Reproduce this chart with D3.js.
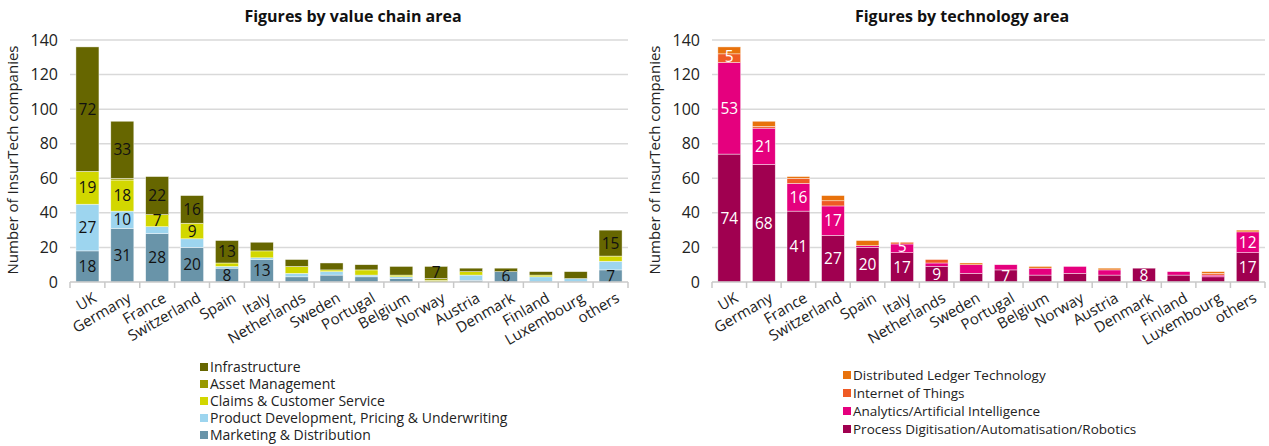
<!DOCTYPE html>
<html>
<head>
<meta charset="utf-8">
<script src="https://cdn.jsdelivr.net/npm/d3@7"></script>
<style>
  body { margin: 0; background: #fff; }
  svg { font-family: "Open Sans", sans-serif; }
</style>
</head>
<body>
<svg width="1269" height="446"></svg>
<script>
var countries = ["UK", "Germany", "France", "Switzerland", "Spain", "Italy", "Netherlands", "Sweden",
    "Portugal", "Belgium", "Norway", "Austria", "Denmark", "Finland", "Luxembourg", "others"];

// value chain area
var marketing      = [18, 31, 28, 20, 8, 13, 3, 4, 3, 2, 0, 1, 6, 0, 0, 7];
var productDev     = [27, 10, 4, 5, 1, 1, 2, 2, 1, 1, 0, 3, 0, 3, 2, 5];
var claims         = [19, 18, 7, 9, 2, 4, 4, 1, 3, 1, 1, 2, 0, 1, 0, 3];
var assetMgmt      = [0, 1, 0, 0, 0, 0, 0, 0, 0, 0, 1, 0, 0, 0, 0, 0];
var infrastructure = [72, 33, 22, 16, 13, 5, 4, 4, 3, 5, 7, 2, 2, 2, 4, 15];

// technology area
var processDig = [74, 68, 41, 27, 20, 17, 9, 5, 7, 4, 5, 4, 8, 4, 3, 17];
var analytics  = [53, 21, 16, 17, 1, 5, 2, 5, 3, 4, 4, 3, 0, 2, 1, 12];
var iot        = [5, 1, 3, 3, 0, 1, 2, 0, 0, 0, 0, 0, 0, 0, 1, 0];
var dlt        = [4, 3, 1, 3, 3, 0, 0, 1, 0, 1, 0, 1, 0, 0, 1, 1];

var yTicks = [0, 20, 40, 60, 80, 100, 120, 140];

var svg = d3.select("svg");

function buildRows(series) {
    return countries.map(function(c, i) {
        var row = { country: c };
        series.forEach(function(s) { row[s.key] = s.values[i]; });
        return row;
    });
}

function drawChart(opt) {
    var g = svg.append("g");
    var x = d3.scaleBand().domain(countries)
        .range([opt.x0, opt.x1]).paddingInner(0.34).paddingOuter(0.17);
    var y = d3.scaleLinear().domain([0, 140]).range([282, 40]);

    // gridlines
    g.append("g").selectAll("line")
        .data(yTicks.slice(1))
        .enter().append("line")
        .attr("x1", opt.x0).attr("x2", opt.x1)
        .attr("y1", function(d) { return y(d); })
        .attr("y2", function(d) { return y(d); })
        .attr("stroke", "#d9d9d9").attr("stroke-width", 1.5);

    // y tick labels
    g.append("g").selectAll("text")
        .data(yTicks)
        .enter().append("text")
        .attr("x", opt.x0 - 12)
        .attr("y", function(d) { return y(d); })
        .attr("dy", "0.35em")
        .attr("text-anchor", "end")
        .attr("font-size", 16)
        .attr("fill", "#222")
        .text(function(d) { return d; });

    var keys = opt.series.map(function(s) { return s.key; });
    var stacked = d3.stack().keys(keys)(buildRows(opt.series));

    var layer = g.append("g").selectAll("g")
        .data(stacked)
        .enter().append("g")
        .attr("fill", function(d, i) { return opt.series[i].color; });

    layer.selectAll("rect")
        .data(function(d) { return d; })
        .enter().append("rect")
        .attr("x", function(d) { return x(d.data.country); })
        .attr("width", x.bandwidth())
        .attr("y", function(d) { return y(d[1]); })
        .attr("height", function(d) { return y(d[0]) - y(d[1]); })
        .attr("stroke", "#fff").attr("stroke-width", 0.6)
        .attr("stroke-opacity", function(d) { return d[1] > d[0] ? 0.7 : 0; });

    // segment labels
    stacked.forEach(function(s) {
        var lab = g.append("g");
        lab.selectAll("text")
            .data(s.filter(function(d) {
                var v = d[1] - d[0];
                var extra = opt.extraLabels.some(function(e) {
                    return e[0] === d.data.country && e[1] === s.key;
                });
                return v >= opt.minLabel || extra;
            }))
            .enter().append("text")
            .attr("x", function(d) { return x(d.data.country) + x.bandwidth() / 2; })
            .attr("y", function(d) {
                var v = d[1] - d[0];
                return y((d[0] + d[1]) / 2) - (v < 6 ? 2 : 0);
            })
            .attr("dy", "0.36em")
            .attr("text-anchor", "middle")
            .attr("font-size", 15.5)
            .attr("fill", opt.labelColor)
            .text(function(d) { return d[1] - d[0]; });
    });

    // baseline and ticks
    g.append("line")
        .attr("x1", opt.x0).attr("x2", opt.x1)
        .attr("y1", y(0)).attr("y2", y(0))
        .attr("stroke", "#c8c8c8").attr("stroke-width", 1.5);
    var bounds = d3.range(countries.length + 1).map(function(i) { return opt.x0 + i * (opt.x1 - opt.x0) / countries.length; });
    g.append("g").selectAll("line")
        .data(bounds)
        .enter().append("line")
        .attr("x1", function(d) { return d; }).attr("x2", function(d) { return d; })
        .attr("y1", y(0)).attr("y2", y(0) + 6)
        .attr("stroke", "#c8c8c8").attr("stroke-width", 1.5);

    // x labels
    g.append("g").selectAll("text")
        .data(countries)
        .enter().append("text")
        .attr("transform", function(d) {
            return "translate(" + (x(d) + x.bandwidth() / 2 + 10) + "," + 301 + ") rotate(-30)";
        })
        .attr("text-anchor", "end")
        .attr("font-size", 15)
        .attr("fill", "#222")
        .text(function(d) { return d; });

    // title
    g.append("text")
        .attr("x", opt.titleX).attr("y", 22)
        .attr("text-anchor", "middle")
        .attr("font-size", 16).attr("font-weight", "bold")
        .attr("fill", "#111")
        .text(opt.title);

    // y axis title
    g.append("text")
        .attr("transform", "translate(" + opt.yTitleX + ",160) rotate(-90)")
        .attr("text-anchor", "middle")
        .attr("font-size", 15)
        .attr("fill", "#222")
        .text("Number of InsurTech companies");

    // legend (reverse order, top = last series)
    var leg = g.append("g").selectAll("g")
        .data(opt.series.slice().reverse())
        .enter().append("g")
        .attr("transform", function(d, i) {
            return "translate(" + opt.legX + "," + (opt.legY + i * opt.legStep) + ")";
        });
    leg.append("rect")
        .attr("x", 0).attr("y", -5)
        .attr("width", 8).attr("height", 8)
        .attr("fill", function(d) { return d.color; });
    leg.append("text")
        .attr("x", 10).attr("y", 0)
        .attr("dy", "0.32em")
        .attr("font-size", opt.legFont)
        .attr("fill", "#222")
        .text(function(d) { return d.name; });
}

drawChart({
    x0: 70, x1: 628,
    title: "Figures by value chain area", titleX: 353,
    yTitleX: 18,
    labelColor: "#111",
    minLabel: 6,
    extraLabels: [],
    legX: 200, legY: 368, legStep: 17, legFont: 14,
    series: [
        { key: "marketing", name: "Marketing & Distribution", values: marketing, color: "#6994a9" },
        { key: "productDev", name: "Product Development, Pricing & Underwriting", values: productDev, color: "#9dd5ef" },
        { key: "claims", name: "Claims & Customer Service", values: claims, color: "#d2d700" },
        { key: "assetMgmt", name: "Asset Management", values: assetMgmt, color: "#999900" },
        { key: "infrastructure", name: "Infrastructure", values: infrastructure, color: "#666600" }
    ]
});

drawChart({
    x0: 712, x1: 1265,
    title: "Figures by technology area", titleX: 962,
    yTitleX: 660,
    labelColor: "#fff",
    minLabel: 7,
    extraLabels: [["UK", "iot"], ["Italy", "analytics"]],
    legX: 843, legY: 376, legStep: 18, legFont: 13.5,
    series: [
        { key: "processDig", name: "Process Digitisation/Automatisation/Robotics", values: processDig, color: "#a00050" },
        { key: "analytics", name: "Analytics/Artificial Intelligence", values: analytics, color: "#e5007e" },
        { key: "iot", name: "Internet of Things", values: iot, color: "#ef5a24" },
        { key: "dlt", name: "Distributed Ledger Technology", values: dlt, color: "#e8720c" }
    ]
});
</script>
</body>
</html>
